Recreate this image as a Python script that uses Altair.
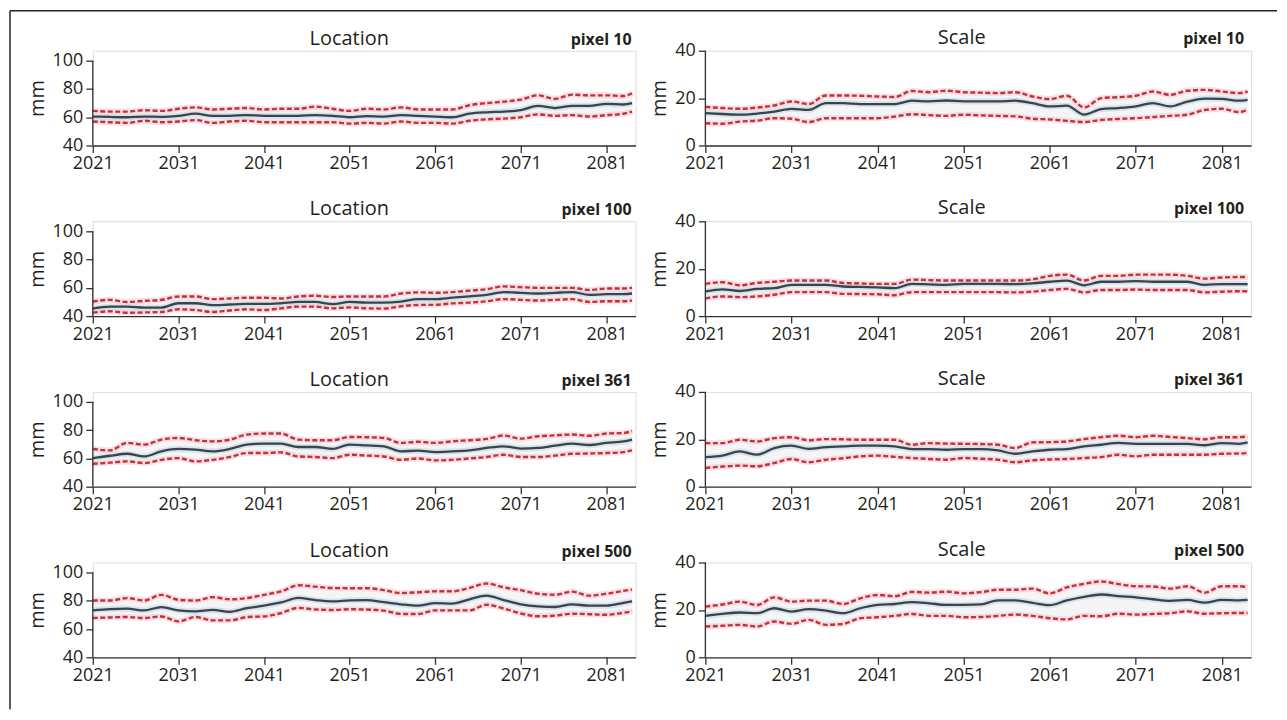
import altair as alt
import pandas as pd

YEARS = [2021, 2023, 2025, 2027, 2029, 2031, 2033, 2035, 2037, 2039, 2041,
         2043, 2045, 2047, 2049, 2051, 2053, 2055, 2057, 2059, 2061, 2063,
         2065, 2067, 2069, 2071, 2073, 2075, 2077, 2079, 2081, 2083, 2084]
X_TICKS = [2021, 2031, 2041, 2051, 2061, 2071, 2081]
LOC_TICKS = [40, 60, 80, 100]
SCALE_TICKS = [0, 20, 40]

# Location, pixel 10
L10_MID = [60.5, 60.2, 60, 60.5, 60.3, 61, 62.5, 61, 61, 61.5, 61, 61, 61, 61.5, 61, 60, 60.8,
           60.5, 61.5, 61, 60.5, 60, 62.5, 63.5, 64, 65, 68, 66.5, 68, 68, 69.5, 69, 70]
L10_UP = [64.5, 64, 64, 65, 64.5, 66, 67, 65.5, 66, 66.5, 65.5, 66, 66, 67.5, 66, 64.5, 66,
          65.5, 67, 65.5, 65.5, 65.5, 68.5, 70, 71, 72.5, 75.5, 73, 76, 75.5, 75.5, 75, 77]
L10_LO = [57, 56.5, 56, 57.5, 56.5, 57, 58, 56, 57, 57.5, 56.5, 56.5, 56.5, 56.5, 56.5, 55.5, 56,
          55.5, 57, 56, 56, 55.5, 57.5, 58.5, 59, 60, 62, 61, 61.5, 60.5, 61.5, 62.5, 64]
# Scale, pixel 10
S10_MID = [13.7, 13.3, 13, 13.5, 14.3, 15.5, 15, 17.9, 17.9, 17.5, 17.5, 17.5, 18.9, 18.6, 19,
           18.6, 18.6, 18.6, 18.9, 17.9, 16.5, 16.8, 13, 15.4, 15.8, 16.5, 17.9, 16.5, 18.5,
           19.8, 19.7, 18.9, 19.3]
S10_UP = [16.3, 15.8, 15.5, 16, 16.9, 18.6, 17.5, 21.1, 21.1, 21, 20.7, 20.5, 23, 22.5, 23.1,
          22.5, 22.3, 22.1, 22.5, 20.7, 19.6, 21, 16.1, 20, 20.4, 21, 22.8, 21.4, 23.1, 23.5,
          22.8, 22.1, 22.8]
S10_LO = [9.4, 9.2, 10.1, 10.5, 11.5, 11.3, 9.9, 11.5, 11.5, 11.5, 11.5, 12.2, 13.2, 12.8, 12.5,
          13, 12.7, 12.5, 12.3, 11.3, 11, 10.4, 9.9, 10.8, 11.2, 11.5, 12, 12.5, 13, 15, 15.5,
          14.1, 15]
# Location, pixel 100
L100_MID = [45.3, 46.7, 46.7, 46, 46, 49.1, 49.1, 47.7, 48.2, 48.6, 48.6, 49.1, 50, 50, 48.5,
            50, 49.6, 49.6, 50.3, 52, 52, 53, 54, 55, 57, 56.5, 56, 56.5, 57, 55, 55.5, 55.5, 56]
L100_UP = [50.3, 51.5, 50, 50.8, 51.5, 53.9, 53.9, 52, 52.5, 53, 53, 52.5, 53.9, 54.4, 53.5,
           53.9, 53.9, 53.9, 56, 56.8, 56.5, 57, 58, 59, 61, 60.5, 60, 60, 60, 58.5, 59.5, 59.5, 60]
L100_LO = [42.4, 43.4, 42.4, 42.6, 42.9, 44.8, 44.3, 42.9, 44, 44.8, 44.3, 45.5, 46.7, 46.7,
           45.5, 46.2, 45.5, 45.3, 47, 47.9, 48, 49, 49.5, 50.5, 52, 51.5, 51, 51.5, 52, 50,
           50.5, 50.5, 51]
# Scale, pixel 100
S100_MID = [10.4, 11.3, 10.6, 11.5, 11.8, 13.2, 13.2, 13.2, 12.5, 12.3, 12.1, 11.8, 13.6, 13.4,
            13.2, 13.6, 13.6, 13.6, 13.5, 13.8, 14.5, 15, 13, 14.5, 14.5, 14.8, 14.5, 14.5, 14.5,
            13.2, 13.5, 13.5, 13.5]
S100_UP = [13.6, 14.3, 13, 14, 14.5, 15, 15, 15, 14, 13.8, 13.6, 13.6, 15.4, 15.2, 15, 15, 15,
           15, 15, 15.5, 17, 17.5, 15, 17, 17, 17.5, 17.5, 17.5, 17, 15.8, 16.3, 16.5, 16.5]
S100_LO = [7.4, 8.3, 8, 8.3, 9, 10.1, 10.1, 10.1, 9.4, 9.3, 9.2, 8.8, 10.1, 10.1, 10.1, 10.1,
           10.1, 10.1, 10, 10.3, 11, 11.5, 10, 11, 11, 11.2, 11, 11, 11, 10, 10.3, 10.5, 10.5]
# Location, pixel 361
L361_MID = [60.2, 61.9, 63.3, 61.4, 65, 66.7, 66.2, 65, 66.7, 69.8, 70.5, 70.5, 68.1, 68.1,
            66.7, 69.8, 69.2, 68.6, 65, 65.5, 64.5, 65, 65.7, 67.4, 68.6, 67, 67.4, 69, 70.5,
            69.5, 71, 72, 73.3]
L361_UP = [66.7, 65.7, 71, 69.8, 73.3, 74.5, 72.9, 72.1, 73.3, 76.9, 77.6, 77.6, 73.3, 72.9,
           72.9, 75.2, 75, 74.5, 71, 71.8, 71, 72.1, 72.9, 73.8, 76.2, 74, 75.7, 76.3, 76.9, 76,
           77.6, 78, 79.3]
L361_LO = [56.2, 57, 57.9, 56.7, 59, 60.2, 57.9, 59, 61, 63.8, 63.8, 64.3, 61.4, 61, 60.2, 62.6,
           62, 61.4, 59, 60, 58.6, 59, 60, 61, 62.6, 61, 61, 62, 63.3, 63.5, 63.8, 64.5, 65.7]
# Scale, pixel 361
S361_MID = [12.5, 13.1, 14.9, 13.5, 16.3, 17.3, 16, 16.7, 17, 17.3, 17.3, 17, 15.9, 15.9, 15.6,
            15.9, 15.9, 15.3, 13.9, 14.9, 15.6, 15.9, 17, 17.7, 18.5, 18.1, 18.1, 18.1, 18.1,
            17.5, 18.4, 18.1, 18.7]
S361_UP = [18.4, 18.4, 19.8, 19.1, 20.5, 20.9, 19.6, 20.1, 20, 19.8, 19.8, 19.8, 17.7, 18.4,
           18.2, 18.1, 18, 17.7, 16.3, 18.7, 18.8, 19.1, 20.1, 20.9, 21.5, 20.9, 21.5, 21, 20.5,
           20, 20.9, 20.9, 21.2]
S361_LO = [7.9, 8.5, 8.9, 8.6, 10, 11.7, 10.3, 11.4, 12, 12.8, 13.1, 12.6, 12.1, 11.7, 11.4,
           12.1, 11.8, 11.4, 10.3, 11.1, 11.5, 11.7, 12.1, 12.5, 13.5, 12.8, 13.5, 13.5, 13.5,
           13.5, 13.9, 14, 14.2]
# Location, pixel 500
L500_MID = [73.2, 74.1, 74.4, 73.2, 75.5, 73.2, 72.5, 73.5, 72.2, 74.8, 76.5, 78.8, 82, 80.5,
            79.5, 80.3, 80.5, 79, 77.5, 76.5, 78.4, 78, 81, 83.6, 80.5, 77.5, 76, 75.6, 77.5,
            76.5, 76.5, 78.5, 79.6]
L500_UP = [80.2, 80.2, 81.9, 80.2, 84.2, 80.7, 80.2, 82.6, 81, 81.9, 84.2, 86.6, 91, 90, 89,
           88.9, 88.9, 87.5, 85.5, 86, 86.7, 86.7, 89.1, 92.2, 89.5, 87.5, 85, 84.3, 86.5, 83.6,
           85, 87, 87.9]
L500_LO = [67.8, 68.2, 68.5, 67.8, 68.9, 65.4, 68.5, 66.1, 66.1, 68.5, 68.9, 71.3, 75, 73.8,
           73.5, 74, 73.8, 73, 70.7, 70.6, 73.2, 73.2, 73.2, 77.2, 74.5, 71, 69, 69.5, 70.8,
           70.5, 70.1, 71.5, 72.5]
# Scale, pixel 500
S500_MID = [17.5, 18.3, 18.9, 18.6, 20.7, 19.3, 20.3, 19.7, 18.6, 20.7, 22.1, 22.5, 23.3, 22.8,
            22.1, 22.1, 22.3, 24, 24, 23, 22, 24, 25.5, 26.5, 25.8, 25.3, 24.5, 23.8, 24.2, 23.1,
            24.2, 24, 24.2]
S500_UP = [21.4, 22.3, 23.5, 22.1, 25.3, 23.5, 23.9, 23.9, 22.5, 24.9, 26.3, 25.8, 27.6, 27.3,
           27.7, 27, 27.5, 28.5, 28.5, 29, 27, 29.5, 31, 32, 30.9, 30, 29.9, 29, 30, 27.3, 30,
           30, 29.5]
S500_LO = [13, 13.3, 13.7, 13, 15.1, 14.1, 15.8, 13.7, 14.1, 16.5, 16.9, 17.5, 18.3, 17.5, 17.5,
           16.9, 17, 17.5, 18, 17.5, 16.5, 16, 17.5, 17.3, 18.4, 18, 18.3, 18.6, 19.4, 18.4,
           18.6, 18.7, 18.7]

PANELS = [
    ("Location", "pixel 10", L10_MID, L10_UP, L10_LO),
    ("Scale", "pixel 10", S10_MID, S10_UP, S10_LO),
    ("Location", "pixel 100", L100_MID, L100_UP, L100_LO),
    ("Scale", "pixel 100", S100_MID, S100_UP, S100_LO),
    ("Location", "pixel 361", L361_MID, L361_UP, L361_LO),
    ("Scale", "pixel 361", S361_MID, S361_UP, S361_LO),
    ("Location", "pixel 500", L500_MID, L500_UP, L500_LO),
    ("Scale", "pixel 500", S500_MID, S500_UP, S500_LO),
]

FONT = "Open Sans"
TEXT = "#231f20"
RED = "#c6303b"
DARK = "#38444e"
AXIS = "#333333"


def panel(kind, label, mid, up, lo, frame=False):
    is_loc = kind == "Location"
    w = 544 if is_loc else 547
    h = 95
    # Location plots are 85px tall for 40..100; the extra 10px above 100 stays empty
    dom = [40, 100 + 10 * 60 / 85] if is_loc else [0, 40]
    ticks = LOC_TICKS if is_loc else SCALE_TICKS
    ty = -6 if is_loc else -7

    df = pd.DataFrame({"year": YEARS, "mid": mid, "up": up, "lo": lo})
    xs = alt.Scale(domain=[2021, 2084.4], nice=False, zero=False)
    xa = alt.Axis(values=X_TICKS, format="d", title=None, grid=False,
                  tickSize=7, labelPadding=2, labelFontSize=18, labelFont=FONT,
                  labelColor=TEXT, domainColor=AXIS, tickColor=AXIS,
                  domainWidth=1.3, tickWidth=1.3, labelFlush=False)
    ys = alt.Scale(domain=dom, nice=False, zero=False)
    ya = alt.Axis(values=ticks, title="mm", grid=False, tickSize=7, labelPadding=3,
                  labelFontSize=18, labelFont=FONT, labelColor=TEXT,
                  titleFont=FONT, titleFontSize=20, titleFontWeight="normal",
                  titleColor=TEXT, titlePadding=5, domain=False,
                  tickColor=AXIS, tickWidth=1.3)
    X = alt.X("year:Q", scale=xs, axis=xa)

    base = alt.Chart(df)
    band = base.mark_area(color="#eef1f3", opacity=0.7, interpolate="monotone").encode(
        x=X, y=alt.Y("lo:Q", scale=ys, axis=ya), y2="up:Q")
    layers = [band]
    for f in ["up", "lo"]:
        layers.append(base.mark_line(color="#f2cfd3", strokeWidth=6, opacity=0.6,
                                     interpolate="monotone").encode(
            x=X, y=alt.Y(f + ":Q", scale=ys, axis=ya)))
    layers.append(base.mark_line(color="#c9d7df", strokeWidth=6, opacity=0.6,
                                 interpolate="monotone").encode(
        x=X, y=alt.Y("mid:Q", scale=ys, axis=ya)))
    for f in ["up", "lo"]:
        layers.append(base.mark_line(color=RED, strokeWidth=2.4, strokeDash=[5, 2.5],
                                     interpolate="monotone").encode(
            x=X, y=alt.Y(f + ":Q", scale=ys, axis=ya)))
    layers.append(base.mark_line(color=DARK, strokeWidth=2.3, interpolate="monotone").encode(
        x=X, y=alt.Y("mid:Q", scale=ys, axis=ya)))

    tdf = pd.DataFrame({"kind": [kind], "label": [label],
                        "top": [ticks[-1]], "bot": [ticks[0]]})
    tbase = alt.Chart(tdf)
    # y axis line, from the lowest to the highest tick
    layers.append(tbase.mark_rule(color=AXIS, strokeWidth=1.3).encode(
        x=alt.value(0), y=alt.Y("top:Q", scale=ys, axis=ya), y2="bot:Q"))
    layers.append(tbase.mark_text(font=FONT, fontSize=20, color=TEXT, align="center",
                                  baseline="alphabetic").encode(
        x=alt.value(257), y=alt.value(ty), text="kind:N"))
    layers.append(tbase.mark_text(font=FONT, fontSize=16, fontWeight="bold", color=TEXT,
                                  align="right", baseline="alphabetic").encode(
        x=alt.value(540), y=alt.value(ty), text="label:N"))
    if frame:
        # the figure's frame: a top and a left border line
        layers.append(tbase.mark_rule(color="#222222", strokeWidth=1.5).encode(
            x=alt.value(-83), x2=alt.value(1187), y=alt.value(-40)))
        layers.append(tbase.mark_rule(color="#222222", strokeWidth=1.5).encode(
            x=alt.value(-83), y=alt.value(-40), y2=alt.value(660)))

    return alt.layer(*layers).properties(width=w, height=h)


charts = [panel(*p, frame=(i == 0)) for i, p in enumerate(PANELS)]
chart = alt.concat(*charts, columns=2, bounds="flush",
                   spacing={"row": 76, "column": 70}).properties(
    padding=0
).configure_view(stroke=None).configure(background="white")

chart.save("out.html", embed_options={"renderer": "svg", "actions": False})
